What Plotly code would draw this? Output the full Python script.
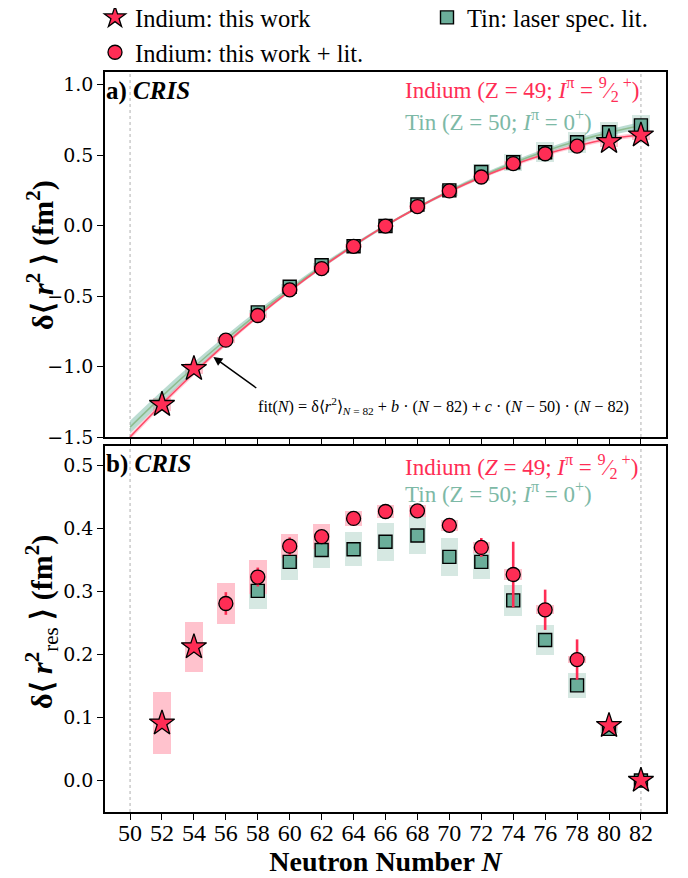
import plotly.graph_objects as go

# ---------------- data ----------------
N_fit = [50, 52, 54, 56, 58, 60, 62, 64, 66, 68, 70, 72, 74, 76, 78, 80, 82]
in_fit = [-1.50, -1.266, -1.046, -0.838, -0.644, -0.463, -0.296, -0.142, 0.0,
          0.127, 0.242, 0.343, 0.431, 0.506, 0.567, 0.615, 0.645]
in_fit_err = [0.02, 0.02, 0.018, 0.016, 0.014, 0.012, 0.011, 0.01, 0.01,
              0.01, 0.011, 0.012, 0.013, 0.014, 0.015, 0.016, 0.018]
sn_fit = [-1.43, -1.212, -1.005, -0.810, -0.625, -0.452, -0.290, -0.140, 0.0,
          0.128, 0.245, 0.350, 0.445, 0.528, 0.600, 0.660, 0.71]
sn_fit_err = [0.045, 0.04, 0.035, 0.03, 0.025, 0.02, 0.016, 0.013, 0.01,
              0.01, 0.012, 0.014, 0.016, 0.018, 0.02, 0.022, 0.025]

# Indium: this work (stars)
in_star_N = [52, 54, 80, 82]
in_star_a = [-1.27, -1.015, 0.595, 0.642]
in_star_a_sys = [0.045, 0.04, 0.035, 0.035]
in_star_b = [0.091, 0.212, 0.087, 0.0]
in_star_b_sys = [0.049, 0.040, 0.004, 0.0]

# Indium: this work + lit. (circles)
in_circ_N = [56, 58, 60, 62, 64, 66, 68, 70, 72, 74, 76, 78]
in_circ_a = [-0.813, -0.638, -0.456, -0.305, -0.147, -0.003, 0.135, 0.246,
             0.345, 0.440, 0.510, 0.564]
in_circ_a_sys = [0.02, 0.02, 0.018, 0.016, 0.014, 0.01, 0.014, 0.016, 0.018,
                 0.02, 0.022, 0.024]
in_circ_b = [0.281, 0.323, 0.372, 0.387, 0.416, 0.427, 0.428, 0.405, 0.370,
             0.327, 0.271, 0.192]
in_circ_b_stat = [0.018, 0.015, 0.014, 0.006, 0.004, 0.003, 0.003, 0.003,
                  0.015, 0.052, 0.032, 0.032]
in_circ_b_sys = [0.032, 0.027, 0.019, 0.020, 0.012, 0.010, 0.009, 0.009,
                 0.009, 0.009, 0.007, 0.006]

# Tin: laser spec. lit. (squares)
sn_N = [58, 60, 62, 64, 66, 68, 70, 72, 74, 76, 78, 80, 82]
sn_a = [-0.616, -0.434, -0.281, -0.146, -0.003, 0.150, 0.250, 0.380, 0.450,
        0.521, 0.592, 0.663, 0.711]
sn_a_sys = [0.02, 0.02, 0.015, 0.01, 0.0, 0.015, 0.04, 0.06, 0.06, 0.07,
            0.075, 0.075, 0.075]
sn_b = [0.301, 0.347, 0.366, 0.367, 0.379, 0.389, 0.355, 0.347, 0.286, 0.223,
        0.151, 0.082, 0.0]
sn_b_sys = [0.029, 0.029, 0.028, 0.027, 0.030, 0.029, 0.030, 0.027, 0.025,
            0.024, 0.020, 0.007, 0.0]

shell_closures = [50, 82]
x_ticks = list(range(50, 83, 2))
ya_ticks = [-1.5, -1.0, -0.5, 0.0, 0.5, 1.0]
yb_ticks = [0.0, 0.1, 0.2, 0.3, 0.4, 0.5]

# ---------------- style ----------------
RED = "#FF2D55"
RED_LINE = "#FF4A68"
PINK_BOX = "#FFC2CD"
PINK_BAND = "rgba(255,120,150,0.35)"
TEAL = "#6BAE9A"
TEAL_TXT = "#7DB9A6"
GREEN_BOX = "rgba(120,180,160,0.30)"
GREEN_LINE = "#8FBC8F"
GREEN_BAND = "rgba(120,185,165,0.50)"
FONT = "Liberation Serif"
TICKFONT = "DejaVu Serif"
BOX_W = 1.1

# the page body adds an 8 px offset, so the figure is 680x870 and placed at (8, 8)
OFF = 8
W, H = 688 - OFF, 878 - OFF
PL, PR = 105 - OFF, 666 - OFF          # plot frame left/right
A_TOP, A_BOT = 72 - OFF, 437 - OFF     # panel a frame
B_TOP, B_BOT = 446 - OFF, 812 - OFF    # panel b frame

fig = go.Figure()


def band(xs, ys, es, color, xa, ya):
    upper = [y + e for y, e in zip(ys, es)]
    lower = [y - e for y, e in zip(ys, es)]
    fig.add_trace(go.Scatter(x=xs, y=upper, mode="lines", line=dict(width=0, shape="spline"),
                             showlegend=False, hoverinfo="skip", xaxis=xa, yaxis=ya))
    fig.add_trace(go.Scatter(x=xs, y=lower, mode="lines", line=dict(width=0, shape="spline"),
                             fill="tonexty", fillcolor=color, showlegend=False,
                             hoverinfo="skip", xaxis=xa, yaxis=ya))


def boxes(xs, ys, es, color, xa, ya):
    fig.add_trace(go.Bar(x=xs, y=[2 * e for e in es], base=[y - e for y, e in zip(ys, es)],
                         width=BOX_W, marker=dict(color=color, line=dict(width=0)),
                         showlegend=False, hoverinfo="skip", xaxis=xa, yaxis=ya))


# ---- panel a ----
band(N_fit, sn_fit, sn_fit_err, GREEN_BAND, "x", "y")
band(N_fit, in_fit, in_fit_err, PINK_BAND, "x", "y")
boxes(sn_N, sn_a, sn_a_sys, GREEN_BOX, "x", "y")
boxes(in_circ_N, in_circ_a, in_circ_a_sys, PINK_BOX, "x", "y")
boxes(in_star_N, in_star_a, in_star_a_sys, PINK_BOX, "x", "y")
fig.add_trace(go.Scatter(x=N_fit, y=sn_fit, mode="lines", line=dict(color=GREEN_LINE, width=1.6, shape="spline"),
                         showlegend=False, hoverinfo="skip", xaxis="x", yaxis="y"))
fig.add_trace(go.Scatter(x=N_fit, y=in_fit, mode="lines", line=dict(color=RED_LINE, width=1.6, shape="spline"),
                         showlegend=False, hoverinfo="skip", xaxis="x", yaxis="y"))

sq_marker = dict(symbol="square", size=13, color=TEAL, line=dict(color="black", width=1.4))
ci_marker = dict(symbol="circle", size=14, color=RED, line=dict(color="black", width=1.3))
st_marker = dict(symbol="star", size=19, color=RED, line=dict(color="black", width=1.3))

fig.add_trace(go.Scatter(x=sn_N, y=sn_a, mode="markers", marker=sq_marker, name="Tin: laser spec. lit.",
                         legend="legend2", xaxis="x", yaxis="y"))
fig.add_trace(go.Scatter(x=in_circ_N, y=in_circ_a, mode="markers", marker=ci_marker,
                         name="Indium: this work + lit.", legend="legend", legendrank=2,
                         xaxis="x", yaxis="y"))
fig.add_trace(go.Scatter(x=in_star_N, y=in_star_a, mode="markers", marker=st_marker,
                         name="Indium: this work", legend="legend", legendrank=1,
                         xaxis="x", yaxis="y"))

# ---- panel b ----
boxes(sn_N, sn_b, sn_b_sys, GREEN_BOX, "x2", "y2")
boxes(in_circ_N, in_circ_b, in_circ_b_sys, PINK_BOX, "x2", "y2")
boxes(in_star_N, in_star_b, in_star_b_sys, PINK_BOX, "x2", "y2")
fig.add_trace(go.Scatter(x=sn_N, y=sn_b, mode="markers", marker=sq_marker, showlegend=False,
                         xaxis="x2", yaxis="y2"))
fig.add_trace(go.Scatter(x=in_circ_N, y=in_circ_b, mode="markers", marker=ci_marker, showlegend=False,
                         error_y=dict(type="data", array=in_circ_b_stat, color=RED, thickness=2.6, width=0),
                         xaxis="x2", yaxis="y2"))
fig.add_trace(go.Scatter(x=in_star_N, y=in_star_b, mode="markers", marker=st_marker, showlegend=False,
                         xaxis="x2", yaxis="y2"))

# shell closures
shapes = []
for n in shell_closures:
    for xr, yr in (("x", "y domain"), ("x2", "y2 domain")):
        shapes.append(dict(type="line", xref=xr, yref=yr, x0=n, x1=n, y0=0, y1=1,
                           line=dict(color="#b0b0b0", width=1, dash="dot"), layer="below"))

axis_common = dict(showline=True, linecolor="black", linewidth=1.5, mirror=True,
                   ticks="outside", ticklen=6, tickwidth=1.3, tickcolor="black",
                   showgrid=False, zeroline=False, automargin=False)
XR = [48.43, 83.57]
xdom = [PL / W, PR / W]
ydom_a = [(H - A_BOT) / H, (H - A_TOP) / H]
ydom_b = [(H - B_BOT) / H, (H - B_TOP) / H]
xtickfont = dict(family=FONT, size=24, color="black")
ytickfont = dict(family=TICKFONT, size=19, color="black")
legfont = dict(family=FONT, size=24.5, color="black")
ytitlefont = dict(family=FONT, size=30, color="black")

fig.update_layout(
    width=W, height=H,
    margin=dict(l=0, r=0, t=0, b=0, autoexpand=False),
    paper_bgcolor="white", plot_bgcolor="white",
    barmode="overlay", bargap=0,
    font=dict(family=FONT, color="black"),
    showlegend=True,
    legend=dict(orientation="v", x=87 / W, y=1.015, xanchor="left", yanchor="top",
                traceorder="normal", font=legfont, bgcolor="rgba(0,0,0,0)",
                tracegroupgap=0, itemsizing="trace"),
    legend2=dict(orientation="v", x=419 / W, y=1.015, xanchor="left", yanchor="top",
                 font=legfont, bgcolor="rgba(0,0,0,0)", itemsizing="trace"),
    xaxis=dict(domain=xdom, range=XR, tickvals=x_ticks, showticklabels=False,
               anchor="y", tickfont=xtickfont, **axis_common),
    yaxis=dict(domain=ydom_a, range=[-1.5, 1.09], tickvals=ya_ticks, tickformat=".1f",
               anchor="x", tickfont=ytickfont, **axis_common),
    xaxis2=dict(domain=xdom, range=XR, tickvals=x_ticks, anchor="y2", tickfont=xtickfont,
                ticklabelstandoff=-8,
                title=dict(text="<b>Neutron Number <i>N</i></b>", font=dict(family=FONT, size=28),
                           standoff=0),
                **axis_common),
    yaxis2=dict(domain=ydom_b, range=[-0.05, 0.531], tickvals=yb_ticks, tickformat=".1f",
                anchor="x2", tickfont=ytickfont, **axis_common),
    shapes=shapes,
)

ann = []
# y-axis titles (rotated), placed in paper coordinates
for text, yc in (("<b>δ⟨ <i>r</i><sup>2</sup> ⟩ (fm<sup>2</sup>)</b>", 255 - OFF),
                 ("<b>δ⟨ <i>r</i><sup>2</sup></b><sub>res</sub><b> ⟩ (fm<sup>2</sup>)</b>", 622 - OFF)):
    ann.append(dict(xref="paper", yref="paper", x=(41 - OFF) / W, y=(H - yc) / H, xanchor="center",
                    yanchor="middle", textangle=-90, showarrow=False, text=text, font=ytitlefont))

for xr, yr, lab, yc in (("x domain", "y domain", "a)", 0.949), ("x2 domain", "y2 domain", "b)", 0.952)):
    ann.append(dict(xref=xr, yref=yr, x=-0.0015, y=yc, xanchor="left", yanchor="middle", showarrow=False,
                    text=f"<b>{lab}</b> <b><i>CRIS</i></b>", font=dict(family=FONT, size=25, color="black")))

in_lab_a = "Indium (Z = 49; <i>I</i><sup>π</sup> = <sup>9</sup>⁄<sub>2</sub><sup> +</sup>)"
in_lab_b = "Indium (<i>Z</i> = 49; <i>I</i><sup>π</sup> = <sup>9</sup>⁄<sub>2</sub><sup> +</sup>)"
sn_lab = "Tin (Z = 50; <i>I</i><sup>π</sup> = 0<sup>+</sup>)"
for xr, yr, il, y1, y2 in (("x domain", "y domain", in_lab_a, 0.951, 0.868),
                           ("x2 domain", "y2 domain", in_lab_b, 0.945, 0.872)):
    ann.append(dict(xref=xr, yref=yr, x=0.531, y=y1, xanchor="left", yanchor="middle", showarrow=False,
                    text=il, font=dict(family=FONT, size=23, color=RED)))
    ann.append(dict(xref=xr, yref=yr, x=0.531, y=y2, xanchor="left", yanchor="middle", showarrow=False,
                    text=sn_lab, font=dict(family=FONT, size=23, color=TEAL_TXT)))

ann.append(dict(xref="x", yref="y", x=57.9, y=-1.28, xanchor="left", yanchor="middle", showarrow=False,
                text="fit(<i>N</i>) = δ⟨<i>r</i><sup>2</sup>⟩<sub><i>N</i> = 82</sub> + <i>b</i> · (<i>N</i> − 82)"
                     " + <i>c</i> · (<i>N</i> − 50) · (<i>N</i> − 82)",
                font=dict(family=FONT, size=16.2, color="black")))
ann.append(dict(xref="x", yref="y", x=55.22, y=-0.932, ax=58.0, ay=-1.16, axref="x", ayref="y",
                text="", showarrow=True, arrowhead=2, arrowsize=1.2, arrowwidth=1.5, arrowcolor="black",
                standoff=0))
fig.update_layout(annotations=ann)

fig.write_html("out.html")
